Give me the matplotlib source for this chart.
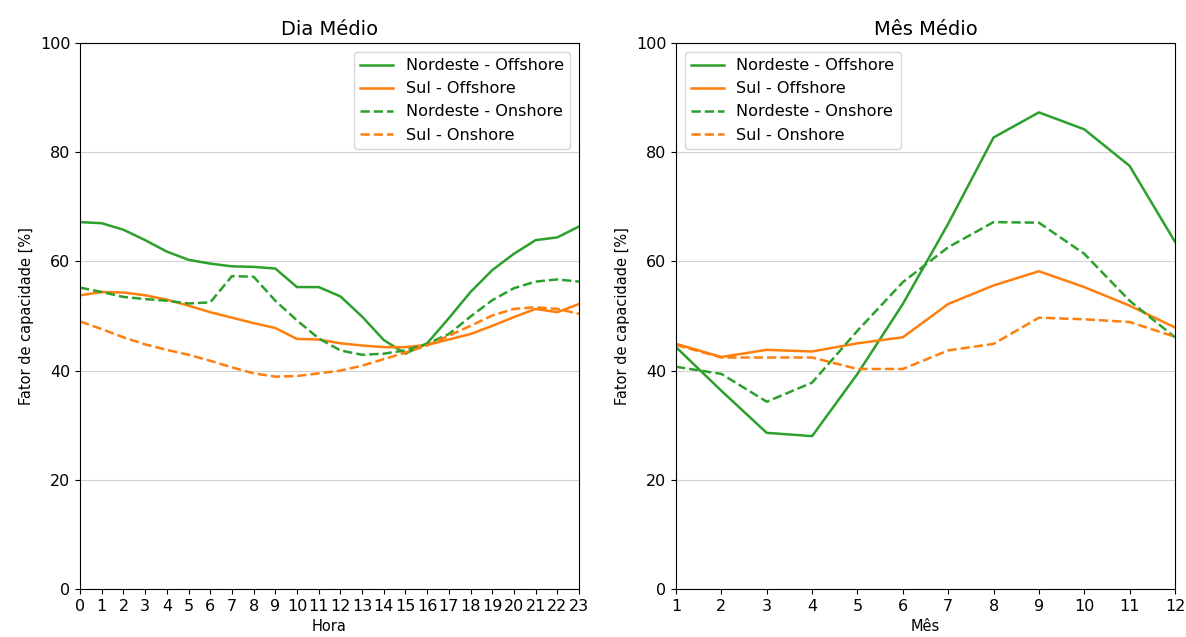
import matplotlib
matplotlib.use("Agg")
import matplotlib.pyplot as plt

# Dia medio (hourly average)
horas = list(range(24))
ne_off_hora = [67.2, 67.0, 65.8, 63.9, 61.8, 60.3, 59.6, 59.1, 59.0, 58.7, 55.3, 55.3,
               53.6, 49.9, 45.6, 43.1, 45.0, 49.6, 54.4, 58.4, 61.4, 63.9, 64.4, 66.4]
sul_off_hora = [53.8, 54.4, 54.3, 53.8, 53.0, 51.9, 50.7, 49.7, 48.7, 47.8, 45.8, 45.7,
                45.0, 44.6, 44.3, 44.3, 44.7, 45.7, 46.7, 48.2, 49.8, 51.3, 50.7, 52.2]
ne_on_hora = [55.2, 54.4, 53.5, 53.1, 52.8, 52.3, 52.5, 57.3, 57.2, 52.8, 49.2, 45.9,
              43.7, 42.9, 43.1, 43.7, 44.9, 46.7, 49.9, 52.9, 55.1, 56.3, 56.7, 56.3]
sul_on_hora = [49.0, 47.6, 46.1, 44.8, 43.8, 42.9, 41.8, 40.6, 39.5, 38.9, 39.0, 39.5,
               40.0, 40.9, 42.1, 43.3, 44.6, 46.4, 48.2, 50.1, 51.3, 51.6, 51.3, 50.4]

# Mes medio (monthly average)
meses = list(range(1, 13))
ne_off_mes = [44.3, 36.3, 28.6, 28.0, 39.4, 52.2, 66.9, 82.7, 87.3, 84.2, 77.5, 63.6]
sul_off_mes = [44.9, 42.5, 43.8, 43.5, 45.0, 46.1, 52.2, 55.6, 58.2, 55.3, 51.9, 47.9]
ne_on_mes = [40.7, 39.4, 34.3, 37.8, 47.3, 56.2, 62.6, 67.2, 67.1, 61.4, 52.8, 46.1]
sul_on_mes = [44.7, 42.4, 42.4, 42.4, 40.3, 40.3, 43.7, 44.9, 49.7, 49.4, 48.9, 46.2]

plt.rcParams["font.size"] = 11
plt.rcParams["xtick.labelsize"] = 11.5
plt.rcParams["ytick.labelsize"] = 11.5

fig = plt.figure(figsize=(11.86, 6.37), dpi=100)
ax1 = fig.add_axes([0.0675, 0.0754, 0.4207, 0.857])
ax2 = fig.add_axes([0.570, 0.0754, 0.4207, 0.857])

def draw(ax, x, s1, s2, s3, s4, title, xlabel, loc):
    ax.plot(x, s1, color="tab:green", lw=1.8, label="Nordeste - Offshore")
    ax.plot(x, s2, color="tab:orange", lw=1.8, label="Sul - Offshore")
    ax.plot(x, s3, color="tab:green", lw=1.8, ls="--", label="Nordeste - Onshore")
    ax.plot(x, s4, color="tab:orange", lw=1.8, ls="--", label="Sul - Onshore")
    ax.set_xlim(x[0], x[-1])
    ax.set_xticks(x)
    ax.set_ylim(0, 100)
    ax.set_yticks([0, 20, 40, 60, 80, 100])
    ax.grid(axis="y", color="lightgrey")
    ax.set_title(title, fontsize=14)
    ax.set_xlabel(xlabel, fontsize=10.5)
    ax.set_ylabel("Fator de capacidade [%]", fontsize=10.5)
    ax.legend(loc=loc, fontsize=11.6, borderaxespad=0.55)

draw(ax1, horas, ne_off_hora, sul_off_hora, ne_on_hora, sul_on_hora,
     "Dia Médio", "Hora", "upper right")
draw(ax2, meses, ne_off_mes, sul_off_mes, ne_on_mes, sul_on_mes,
     "Mês Médio", "Mês", "upper left")

fig.savefig("out.png", dpi=100)
